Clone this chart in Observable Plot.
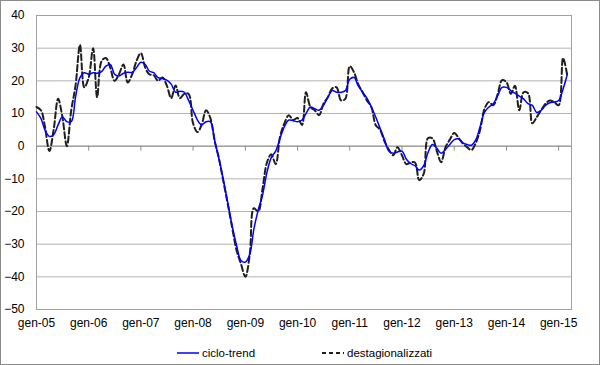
<!DOCTYPE html>
<html><head><meta charset="utf-8">
<script src="https://cdn.jsdelivr.net/npm/d3@7"></script>
<script src="https://cdn.jsdelivr.net/npm/@observablehq/plot@0.6"></script>
<style>
body{margin:0;background:#fff;}
#wrap{position:relative;width:600px;height:365px;font-family:"Liberation Sans",Arial,sans-serif;background:#fff;overflow:hidden;}
#chart{position:absolute;left:0;top:0;}
#border{position:absolute;left:0;top:0;width:600px;height:365px;box-sizing:border-box;border:1px solid #8a8a8a;pointer-events:none;}
#legend{position:absolute;top:346px;left:0;width:600px;height:14px;font-size:11.5px;line-height:14px;color:#000;}
#legend .item{position:absolute;top:0;height:14px;display:flex;align-items:center;white-space:nowrap;}
#legend svg{display:block;margin-right:3px;}
</style></head><body>
<div id="wrap"><div id="chart"></div><div id="legend"></div><div id="border"></div></div>
<script>
// monthly data, Jan 2005 .. Mar 2015
const startYear = 2005;
const seriesNames = ["ciclo-trend", "destagionalizzati"];
const trend = [
  10.5, 8.5, 5, 3, 3.5, 6.5, 9, 7.5, 7.5, 15, 21, 22.5,
  22, 22.5, 22.3, 22.8, 24.5, 25, 22, 21.5, 22.3, 22.6, 22.6, 24,
  25.7, 25, 23, 22.5, 21, 20.7, 20.2, 19, 16.5, 16.8, 16.5, 14,
  11, 8, 6.5, 7.5, 7.5, 1.5, -4, -10.5, -17.5, -24.5, -30.5, -35,
  -35.5, -33, -25.5, -19.5, -15, -8, -3.5, -1.5, 2.5, 6, 8, 7.8,
  7.5, 8, 10, 12, 11.5, 11, 12.5, 15, 17, 16.5, 16.5, 17,
  20.5, 21, 18.5, 16.5, 14.7, 12, 9, 5.5, 2, -1.5, -2.2, -1.8,
  -1.5, -4, -5.3, -6, -7.3, -6, -2, 0.5, -0.6, -2.2, -1, 0.5,
  2, 2.2, 1, 0.5, 0.3, 2, 6, 10.4, 12, 13, 15.5, 18,
  18, 17, 16.2, 15.3, 14.5, 13, 12.5, 10.3, 11, 12.5, 13.3, 13.5,
  14, 17.5, 21.7
];
const dest = [
  12, 11, 6, -1.5, 5, 14.5, 9, 0, 11, 18.5, 31, 18,
  21, 30, 15, 26, 27, 24, 20, 22, 25, 19.5, 22, 26,
  28.5, 24, 22, 21.7, 20, 21, 18.6, 14.7, 18.6, 14.7, 16, 16,
  7, 4.3, 6.5, 11, 8.6, 1.5, -4, -11, -18, -25, -32, -36,
  -40, -33, -19, -20, -13, -5, -2.5, -5.5, 3, 7, 9.5, 8,
  8.6, 6.5, 16.5, 12, 11, 9.5, 13, 15, 17.7, 18, 14, 14.5,
  24.5, 22.5, 19, 16.5, 14, 12, 6.5, 5, 1.5, -1, -2.8, -0.3,
  -2.8, -5.5, -5, -5, -10.4, -8.5, 2.4, 2.4, -1.5, -4.9, -0.3, 2,
  4, 2.5, 0.9, -0.3, -1.2, 1, 5, 11.5, 13.5, 12.5, 16, 20.2,
  19.6, 16, 18.5, 11, 16.5, 16.2, 7, 8.9, 11, 13, 14, 13.5,
  12.5, 27, 22
];
const yTicks = [-50, -40, -30, -20, -10, 0, 10, 20, 30, 40];
const tickYears = [2005, 2006, 2007, 2008, 2009, 2010, 2011, 2012, 2013, 2014, 2015];
const monthPrefix = "gen-";

const dates = trend.map((_, i) => new Date(Date.UTC(startYear, i, 1)));
const rows = dates.map((date, i) => ({date, trend: trend[i], dest: dest[i]}));
const yearTicks = tickYears.map(y => new Date(Date.UTC(y, 0, 1)));
const fmt = d => monthPrefix + String(d.getUTCFullYear()).slice(2);

const plot = Plot.plot({
  width: 600,
  height: 340,
  marginLeft: 36,
  marginRight: 29,
  marginTop: 15,
  marginBottom: 31,
  style: {fontFamily: "'Liberation Sans', Arial, sans-serif", fontSize: "12px", color: "#000", background: "transparent", overflow: "visible"},
  x: {type: "utc", domain: [new Date(Date.UTC(2005, 0, 1)), new Date(Date.UTC(2015, 3, 1))]},
  y: {domain: [-50, 40]},
  marks: [
    Plot.gridY(yTicks, {stroke: "#b4b4b4", strokeOpacity: 1}),
    Plot.frame({stroke: "#a0a0a0"}),
    Plot.ruleY([0], {stroke: "#8c8c8c"}),
    Plot.ruleX(yearTicks, {x: d => d, y1: 0, y2: 0, insetBottom: -5, stroke: "#8c8c8c"}),
    Plot.axisY(yTicks, {tickSize: 0, tickPadding: 12, label: null, fontSize: 12}),
    Plot.axisX(yearTicks, {tickSize: 0, tickPadding: 9, label: null, tickFormat: fmt, fontSize: 12}),
    Plot.line(rows, {x: "date", y: "dest", stroke: "#1e1e1e", strokeWidth: 2, strokeDasharray: "6,3", curve: "catmull-rom"}),
    Plot.line(rows, {x: "date", y: "trend", stroke: "#0000ff", strokeWidth: 1.5, curve: "catmull-rom"})
  ]
});
document.getElementById("chart").appendChild(plot);

const legend = document.getElementById("legend");
const legendItems = [
  {name: seriesNames[0], color: "#0000ff", dash: null, width: 1.5, left: 177},
  {name: seriesNames[1], color: "#1e1e1e", dash: "4,3", width: 2, left: 322}
];
for (const it of legendItems) {
  const div = document.createElement("div");
  div.className = "item";
  div.style.left = it.left + "px";
  div.innerHTML = `<svg width="22" height="6"><line x1="0" y1="3" x2="22" y2="3" stroke="${it.color}" stroke-width="${it.width}" ${it.dash ? `stroke-dasharray="${it.dash}"` : ""}/></svg><span>${it.name}</span>`;
  legend.appendChild(div);
}
</script>
</body></html>
